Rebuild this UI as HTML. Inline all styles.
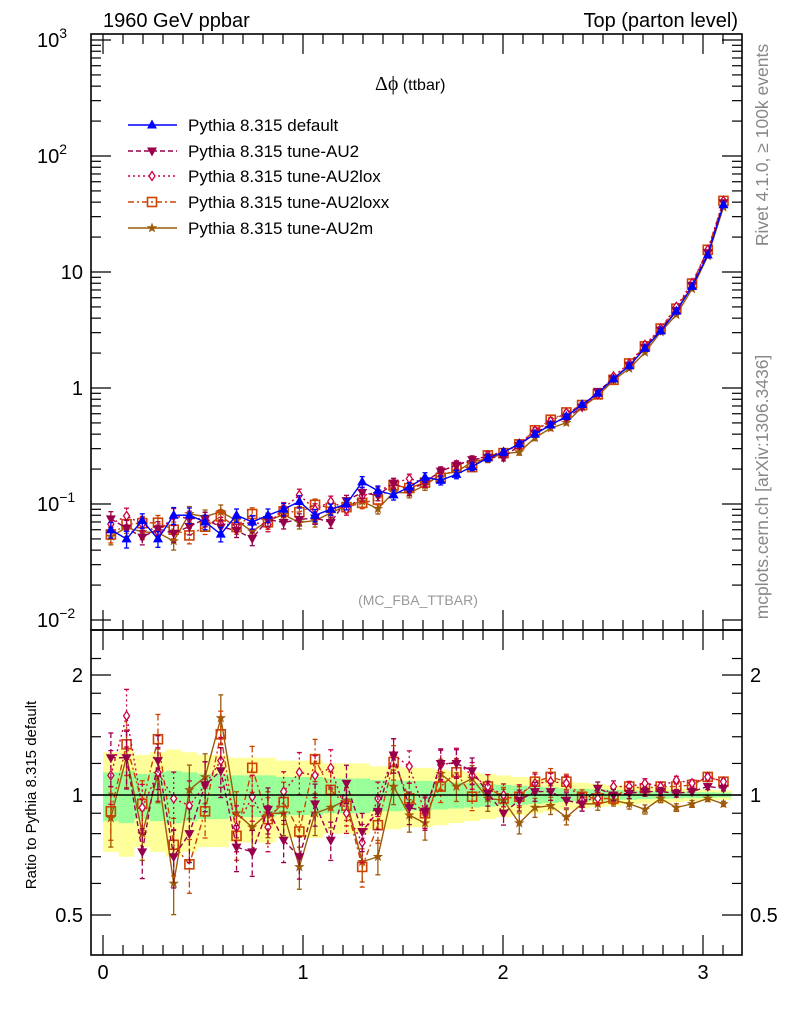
<!DOCTYPE html>
<html><head><meta charset="utf-8"><style>
html,body{margin:0;padding:0;background:#fff}
svg{display:block;font-family:"Liberation Sans",Arial,sans-serif}
</style></head><body>
<svg id="chart" width="786" height="1024" viewBox="0 0 786 1024"></svg>
<script>
// ---- data ----
const binCount = 40;
const xMax = Math.PI;
const defaultVals = [0.06,0.05,0.072,0.05,0.08,0.08,0.07,0.055,0.08,0.07,0.08,0.09,0.105,0.08,0.09,0.1,0.155,0.13,0.12,0.14,0.17,0.16,0.18,0.21,0.25,0.28,0.33,0.40,0.48,0.57,0.72,0.9,1.2,1.55,2.2,3.1,4.6,7.5,14,38];
const ratioAU2 = [1.24,1.24,0.72,1.22,0.70,0.80,1.06,1.15,0.74,0.72,0.92,0.77,0.70,0.95,0.77,1.07,0.81,0.91,1.26,0.93,0.91,1.20,1.20,1.15,1.01,0.90,0.97,1.02,1.02,0.97,0.95,1.04,1.0,1.01,1.02,1.02,1.01,1.02,1.05,1.04];
const ratioAU2lox = [1.12,1.58,0.93,1.14,0.98,0.94,1.06,1.22,0.83,0.99,0.83,1.02,1.14,1.12,1.17,0.90,0.76,0.98,1.26,1.18,0.90,1.19,1.21,1.12,1.05,1.0,1.0,1.07,1.08,1.07,0.97,0.98,1.05,1.05,1.07,1.05,1.09,1.07,1.11,1.08];
const ratioAU2loxx = [0.91,1.34,0.95,1.38,0.75,0.67,0.91,1.42,0.79,1.17,0.87,0.96,0.81,1.23,1.03,0.94,0.66,0.84,1.21,0.98,0.90,1.05,1.14,0.99,1.05,0.98,0.99,1.08,1.11,1.08,0.99,0.98,0.98,1.05,1.04,1.05,1.05,1.06,1.11,1.08];
const ratioAU2m = [0.875,1.25,0.80,1.13,0.60,1.03,1.11,1.56,0.90,0.83,0.90,0.90,0.66,0.90,0.93,0.97,0.68,0.70,1.05,0.89,0.85,1.13,1.05,1.10,0.98,0.97,0.85,0.93,0.94,0.88,0.95,0.95,0.97,0.95,0.92,0.98,0.93,0.95,0.98,0.95];
const relErr = [0.14,0.15,0.13,0.14,0.15,0.14,0.13,0.13,0.12,0.12,0.12,0.11,0.11,0.11,0.10,0.10,0.10,0.09,0.09,0.085,0.085,0.08,0.075,0.07,0.065,0.06,0.055,0.05,0.045,0.04,0.037,0.033,0.03,0.027,0.024,0.022,0.02,0.018,0.016,0.014];
const seriesNames = ["Pythia 8.315 default","Pythia 8.315 tune-AU2","Pythia 8.315 tune-AU2lox","Pythia 8.315 tune-AU2loxx","Pythia 8.315 tune-AU2m"];
const mainTicks = [0.01,0.1,1,10,100,1000];
const ratioTicks = [0.5,1,2];
const xTicks = [0,1,2,3];

// ---- geometry ----
const L=91,R=742,T=34,MB=630,RB=955;
const sx = v => 103 + 200*v;
const sy = v => 388 - 116*Math.log10(v);
const sr = v => 795 - 398.6*Math.log10(v);
const svg = document.getElementById('chart');
const NS='http://www.w3.org/2000/svg';
function mk(tag, attrs, parent){const e=document.createElementNS(NS,tag);for(const k in attrs)e.setAttribute(k,attrs[k]);(parent||svg).appendChild(e);return e;}
function txt(s,attrs,parent){const e=mk('text',attrs,parent);e.textContent=s;return e;}
const bw = xMax/binCount;
const centers = defaultVals.map((_,i)=>(i+0.5)*bw);

// bands
const bands = mk('g',{});


relErr.forEach((e,i)=>{
  const x0=sx(i*bw), x1=sx((i+1)*bw);
  const y = mk('rect',{x:x0,y:sr(1+2*e),width:x1-x0,height:sr(Math.max(1-2*e,0.05))-sr(1+2*e),fill:'#ffff99'},bands);
  
  
  const g = mk('rect',{x:x0,y:sr(1+e),width:x1-x0,height:sr(1-e)-sr(1+e),fill:'#99ff99'},bands);
  
  
});

// series
const styles = [
 {c:'#0000ff',dash:'',m:'tri'},
 {c:'#99004c',dash:'5,3',m:'tridown'},
 {c:'#cc0044',dash:'2,3',m:'diamond'},
 {c:'#cc4400',dash:'6,3,2,3',m:'square'},
 {c:'#9c5a0a',dash:'',m:'star'}
];
const ratios = [defaultVals.map(()=>1),ratioAU2,ratioAU2lox,ratioAU2loxx,ratioAU2m];
function marker(type,x,y,c,g){
  if(type==='tri') return mk('path',{d:`M${x},${y-5.5}L${x+5},${y+3.5}L${x-5},${y+3.5}Z`,fill:c},g);
  if(type==='tridown') return mk('path',{d:`M${x},${y+5.5}L${x+5},${y-3.5}L${x-5},${y-3.5}Z`,fill:c},g);
  if(type==='diamond') return mk('path',{d:`M${x},${y-4.5}L${x+3},${y}L${x},${y+4.5}L${x-3},${y}Z`,fill:'#fff',stroke:c,'stroke-width':1.3},g);
  if(type==='square') return mk('rect',{x:x-4.5,y:y-4.5,width:9,height:9,fill:'none',stroke:c,'stroke-width':1.6},g);
  let p='';for(let k=0;k<10;k++){const r=k%2?2.2:5.5,a=-Math.PI/2+k*Math.PI/5;p+=(k?'L':'M')+(x+r*Math.cos(a)).toFixed(1)+','+(y+r*Math.sin(a)).toFixed(1);}
  return mk('path',{d:p+'Z',fill:c},g);
}
function drawSeries(panelY, valFn, isRatio){
  for(let s=4;s>=0;s--){
    if(s===0 && isRatio) continue;
    const st=styles[s];
    const g=mk('g',{});
    
    
    const pts=centers.map((c,i)=>[sx(c),panelY(valFn(s,i))]);
    mk('polyline',{points:pts.map(p=>p.join(',')).join(' '),fill:'none',stroke:st.c,'stroke-width':1.4,'stroke-dasharray':st.dash},g);
    centers.forEach((c,i)=>{
      const v=valFn(s,i), e=relErr[i]*1.1;
      mk('line',{x1:sx(c),x2:sx(c),y1:panelY(v*(1+e)),y2:panelY(v*(1-e)),stroke:st.c,'stroke-width':1.3,'stroke-dasharray':st.dash},g);
      mk('line',{x1:sx(c)-2.5,x2:sx(c)+2.5,y1:panelY(v*(1+e)),y2:panelY(v*(1+e)),stroke:st.c,'stroke-width':1.3},g);
      mk('line',{x1:sx(c)-2.5,x2:sx(c)+2.5,y1:panelY(v*(1-e)),y2:panelY(v*(1-e)),stroke:st.c,'stroke-width':1.3},g);
      const m=marker(st.m,sx(c),panelY(v),st.c,g);
      
      
    });
  }
}
drawSeries(sy,(s,i)=>defaultVals[i]*ratios[s][i],false);
drawSeries(sr,(s,i)=>ratios[s][i],true);
const unity=mk('line',{x1:L,x2:R,y1:sr(1),y2:sr(1),stroke:'#000','stroke-width':1.5});



// frames
mk('rect',{x:L,y:T,width:R-L,height:MB-T,fill:'none',stroke:'#000','stroke-width':1.6});
mk('rect',{x:L,y:MB,width:R-L,height:RB-MB,fill:'none',stroke:'#000','stroke-width':1.6});
const axes=mk('g',{stroke:'#000','stroke-width':1.2});
for(let d=-2;d<=2;d++){for(let k=1;k<10;k++){const y=sy(k*Math.pow(10,d));const len=k===1?20:10;
  mk('line',{x1:L,x2:L+len,y1:y,y2:y},axes);mk('line',{x1:R,x2:R-len,y1:y,y2:y},axes);}}
mk('line',{x1:L,x2:L+20,y1:sy(1000),y2:sy(1000)},axes);mk('line',{x1:R,x2:R-20,y1:sy(1000),y2:sy(1000)},axes);
const sups=['−2','−1','','','2','3'];
mainTicks.forEach((v,i)=>{
  const y=sy(v);
  const t=txt('',{x:83,y:y+7,'font-size':20,'text-anchor':'end'});
  
  
  if(v===1||v===10){t.textContent=String(v);}
  else{t.setAttribute('x',37);t.setAttribute('text-anchor','start');t.textContent='10';const sp=document.createElementNS(NS,'tspan');sp.setAttribute('dy',-9);sp.setAttribute('font-size',14);sp.textContent=sups[i];t.appendChild(sp);}
});
[0.5,0.6,0.7,0.8,0.9,1,1.2,1.4,1.6,1.8,2,2.2].forEach(v=>{const y=sr(v);const len=(v===0.5||v===1||v===2)?20:10;
  mk('line',{x1:L,x2:L+len,y1:y,y2:y},axes);mk('line',{x1:R,x2:R-len,y1:y,y2:y},axes);});
ratioTicks.forEach(v=>{
  const a=txt(String(v),{x:83,y:sr(v)+7,'font-size':20,'text-anchor':'end'});
  
  
  const b=txt(String(v),{x:750,y:sr(v)+7,'font-size':20});
  
  
});
for(let v=0;v<=3.15;v+=0.1){const x=sx(v);const big=Math.abs(v-Math.round(v))<1e-6;const len=big?20:10;
  [T,MB].forEach(y0=>mk('line',{x1:x,x2:x,y1:y0,y2:y0+len},axes));
  [MB,RB].forEach(y0=>mk('line',{x1:x,x2:x,y1:y0,y2:y0-len},axes));}
xTicks.forEach(v=>{const t=txt(String(v),{x:sx(v),y:979,'font-size':20,'text-anchor':'middle'});
  
  });

// texts
const t1=txt('1960 GeV ppbar',{x:103,y:27,'font-size':20});
const t2=txt('Top (parton level)',{x:738,y:27,'font-size':20,'text-anchor':'end'});
const t3=txt('',{x:375,y:90,'font-size':16});
const sp1=document.createElementNS(NS,'tspan');sp1.setAttribute('font-family','"Liberation Serif",serif');sp1.setAttribute('font-size',20);sp1.textContent='Δϕ';t3.appendChild(sp1);
const sp2=document.createElementNS(NS,'tspan');sp2.textContent=' (ttbar)';t3.appendChild(sp2);
const t4=txt('(MC_FBA_TTBAR)',{x:418,y:605,'font-size':14,fill:'#999','text-anchor':'middle'});
const t5=txt('Rivet 4.1.0, ≥ 100k events',{x:0,y:0,'font-size':17.5,fill:'#888','text-anchor':'middle',transform:'translate(768,145) rotate(-90)'});
const t6=txt('mcplots.cern.ch [arXiv:1306.3436]',{x:0,y:0,'font-size':17.5,fill:'#888','text-anchor':'middle',transform:'translate(768,487) rotate(-90)'});
const t7=txt('Ratio to Pythia 8.315 default',{x:0,y:0,'font-size':15,'text-anchor':'middle',transform:'translate(36,795) rotate(-90)'});

// legend
const legendY=[125,151,176,202,228];
seriesNames.forEach((n,s)=>{
  const g=mk('g',{});
  
  
  const st=styles[s],y=legendY[s];
  mk('line',{x1:128,x2:177,y1:y,y2:y,stroke:st.c,'stroke-width':1.4,'stroke-dasharray':st.dash},g);
  marker(st.m,152,y,st.c,g);
  txt(n,{x:188,y:y+6,'font-size':17},g);
});
</script>
</body></html>
